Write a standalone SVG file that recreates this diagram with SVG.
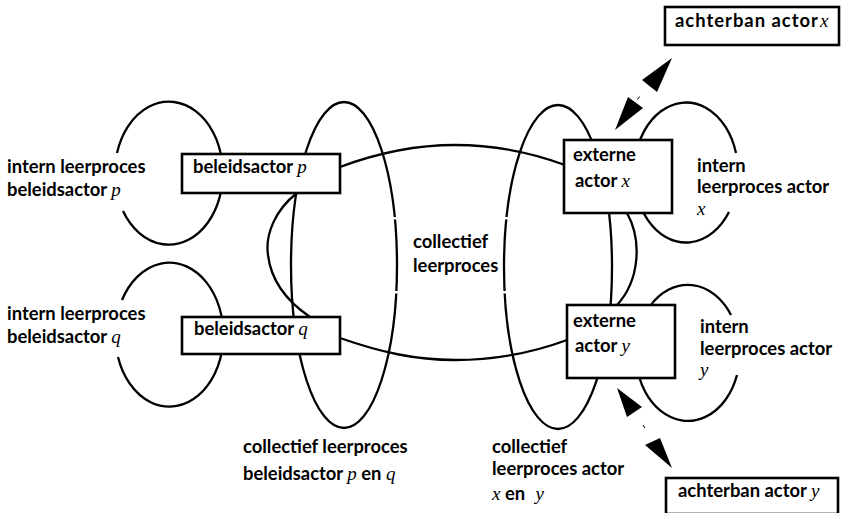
<svg xmlns="http://www.w3.org/2000/svg" width="844" height="513" viewBox="0 0 844 513">
  <style>
    .ln { fill: none; stroke: #000; stroke-width: 2.3; }
    .box { fill: #fff; stroke: #000; stroke-width: 2.6; }
    .lbl { font-family: Lato, "Open Sans", sans-serif; font-weight: bold; font-size: 18.4px; fill: #000; }
    .v { font-family: "Liberation Serif", serif; font-style: italic; font-weight: normal; font-size: 19px; }
    .head { fill: #000; stroke: none; }
    .gap { fill: #fff; stroke: none; }
  </style>

  <!-- learning-process loops and the shared process -->
  <g id="connectors">
    <!-- internal loops of the policy actors -->
    <path id="loop-p" class="ln" d="M 117,153 A 54 71.5 0 1 1 123,211"/>
    <path id="loop-q" class="ln" d="M 122,300 A 54 72 0 1 1 118,357"/>
    <!-- collective process of p and q -->
    <ellipse id="coll-pq" class="ln" cx="344" cy="265" rx="53" ry="163"/>
    <!-- collective process of x and y -->
    <ellipse id="coll-xy" class="ln" cx="558" cy="267" rx="54" ry="162"/>
    <!-- internal loops of the external actors -->
    <path id="loop-x" class="ln" d="M 736,153 A 52 70 0 1 0 729,212"/>
    <path id="loop-y" class="ln" d="M 731,315 A 52 68 0 1 0 737,375"/>
    <!-- central collective learning process -->
    <path id="coll-central" class="ln" d="M 297,193 C 275,210 265,235 268,255 C 271,280 285,300 310,317 L 340,338 C 380,352 415,360 455,360 C 500,360 540,350 567,340 L 617,305 C 640,280 642,240 627,213 L 565,165 C 530,152 495,145 455,145 C 415,145 380,152 340,167 Z"/>
    <!-- small breaks in the collective outlines -->
    <rect class="gap" x="393" y="217" width="8" height="2.5"/>
    <rect class="gap" x="393" y="291" width="8" height="2.5"/>
    <rect class="gap" x="503" y="217" width="8" height="2.5"/>
    <rect class="gap" x="503" y="291" width="8" height="2.5"/>
    <!-- exchange with the constituency of x -->
    <polygon class="head" points="615,130 628,97 643,108"/>
    <polygon class="head" points="672,58 642,80 657,92"/>
    <line x1="637.5" y1="99.5" x2="639.5" y2="96.5" stroke="#000" stroke-width="1"/>
    <!-- exchange with the constituency of y -->
    <polygon class="head" points="617,388 627,417 642,407"/>
    <polygon class="head" points="672,468 645,445 660,438"/>
    <line x1="643" y1="425" x2="645" y2="428" stroke="#000" stroke-width="1"/>
  </g>

  <g id="node-p">
    <rect class="box" x="182" y="154" width="158" height="39"/>
    <text class="lbl" x="193" y="173">beleidsactor <tspan class="v">p</tspan></text>
  </g>
  <g id="node-q">
    <rect class="box" x="182" y="317" width="158" height="37"/>
    <text class="lbl" x="194" y="335">beleidsactor <tspan class="v">q</tspan></text>
  </g>
  <g id="node-x">
    <rect class="box" x="564" y="140" width="108" height="73"/>
    <text class="lbl" x="573" y="161">externe</text>
    <text class="lbl" x="575" y="187">actor <tspan class="v">x</tspan></text>
  </g>
  <g id="node-y">
    <rect class="box" x="567" y="305" width="108" height="73"/>
    <text class="lbl" x="573" y="327">externe</text>
    <text class="lbl" x="575" y="352">actor <tspan class="v">y</tspan></text>
  </g>
  <g id="node-achterban-x">
    <rect class="box" x="665" y="7" width="174" height="38"/>
    <text class="lbl" x="675" y="27" letter-spacing="1">achterban actor<tspan class="v" dx="1">x</tspan></text>
  </g>
  <g id="node-achterban-y">
    <rect class="box" x="666" y="478" width="172" height="36"/>
    <text class="lbl" x="678" y="497">achterban actor <tspan class="v">y</tspan></text>
  </g>

  <g id="labels">
    <text class="lbl" x="7" y="173">intern leerproces</text>
    <text class="lbl" x="7" y="196">beleidsactor <tspan class="v">p</tspan></text>
    <text class="lbl" x="7" y="320">intern leerproces</text>
    <text class="lbl" x="7" y="343">beleidsactor <tspan class="v">q</tspan></text>
    <text class="lbl" x="413" y="248">collectief</text>
    <text class="lbl" x="413" y="272">leerproces</text>
    <text class="lbl" x="697" y="172">intern</text>
    <text class="lbl" x="697" y="193">leerproces actor</text>
    <text class="lbl" x="697" y="215"><tspan class="v">x</tspan></text>
    <text class="lbl" x="700" y="333">intern</text>
    <text class="lbl" x="700" y="355">leerproces actor</text>
    <text class="lbl" x="700" y="376"><tspan class="v">y</tspan></text>
    <text class="lbl" x="243" y="453">collectief leerproces</text>
    <text class="lbl" x="243" y="480">beleidsactor <tspan class="v">p</tspan> en <tspan class="v">q</tspan></text>
    <text class="lbl" x="492" y="453">collectief</text>
    <text class="lbl" x="492" y="475">leerproces actor</text>
    <text class="lbl" x="492" y="500"><tspan class="v">x</tspan> en <tspan class="v" dx="6">y</tspan></text>
  </g>
</svg>
